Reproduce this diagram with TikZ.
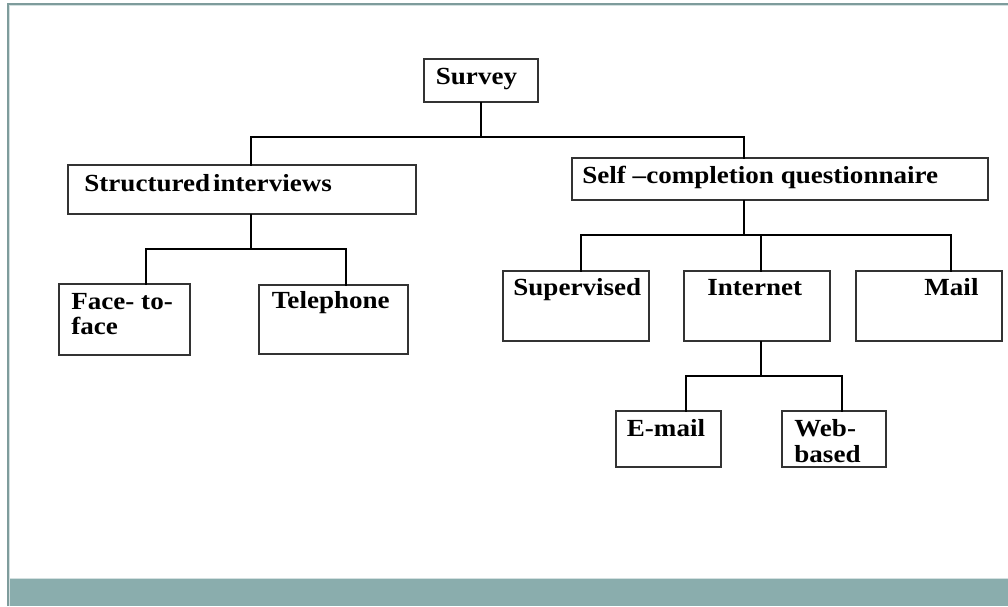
\documentclass[tikz,border=0pt]{standalone}
\usepackage{fontspec}
\setmainfont{Liberation Serif}[FakeStretch=1.1]
\usetikzlibrary{fit}
\definecolor{bandteal}{HTML}{8AADAD}
\definecolor{frameteal}{HTML}{7E9C9C}
\definecolor{framelight}{HTML}{D3E0E0}
\begin{document}
\begin{tikzpicture}[x=0.5pt,y=-0.5pt,
  box/.style={draw=black!80,line width=0.7pt,inner sep=0pt},
  conn/.style={draw=black,line width=1.2pt,line cap=rect},
  lbl/.style={anchor=base west,inner sep=0pt,font=\fontsize{12.3}{13}\selectfont\bfseries}]
\useasboundingbox (0,0) rectangle (1008,606);
% slide frame and footer band
\fill[white] (0,0) rectangle (1008,606);
\fill[bandteal] (7,579) rectangle (1008,606);
\draw[framelight,line width=0.5pt] (7,578.5) -- (1008,578.5);
\draw[frameteal,line width=1pt] (7.5,606) -- (7.5,3.5) -- (1008,3.5);
\draw[framelight,line width=0.5pt] (9.5,606) -- (9.5,5.5) -- (1008,5.5);

% boxes
\node[box,fit={(424,59) (538,102)}] (survey) {};
\node[box,fit={(68,165) (416,214)}] (struct) {};
\node[box,fit={(572,158) (988,200)}] (selfc) {};
\node[box,fit={(59,284) (190,355)}] (ftf) {};
\node[box,fit={(259,285) (408,354)}] (tel) {};
\node[box,fit={(503,271) (649,341)}] (sup) {};
\node[box,fit={(684,271) (830,341)}] (inet) {};
\node[box,fit={(856,271) (1002,341)}] (mail) {};
\node[box,fit={(616,411) (721,467)}] (email) {};
\node[box,fit={(782,411) (886,467)}] (web) {};

% labels
\node[lbl] (survey-t) at (435.5,84) {Survey};
\node[lbl] (struct-t) at (84,191) {Structured\kern1.5pt interviews};
\node[lbl] (selfc-t) at (582,183) {Self \textendash completion questionnaire};
\node[lbl] (ftf-t1) at (71,309) {Face- to-};
\node[lbl] (ftf-t2) at (71,334) {face};
\node[lbl] (tel-t) at (271.5,308) {Telephone};
\node[lbl] (sup-t) at (513,295) {Supervised};
\node[lbl] (inet-t) at (707,295) {Internet};
\node[lbl] (mail-t) at (924,295) {Mail};
\node[lbl] (email-t) at (626.5,436) {E-mail};
\node[lbl] (web-t1) at (794,436) {Web-};
\node[lbl] (web-t2) at (794,462) {based};

% junction points of the connector buses
\coordinate (j0) at (481,137);
\coordinate (j0l) at (250.7,137);
\coordinate (j0r) at (744,137);
\coordinate (j1) at (250.7,249);
\coordinate (j1l) at (146,249);
\coordinate (j1r) at (346,249);
\coordinate (j2) at (744,235);
\coordinate (j2l) at (581,235);
\coordinate (j2m) at (761,235);
\coordinate (j2r) at (951,235);
\coordinate (j3) at (761,376);
\coordinate (j3l) at (686,376);
\coordinate (j3r) at (842,376);

% connectors
\draw[conn] (survey.south) -- (j0);
\draw[conn] (j0l |- struct.north) -- (j0l) -- (j0r) -- (j0r |- selfc.north);
\draw[conn] (j1 |- struct.south) -- (j1);
\draw[conn] (j1l |- ftf.north) -- (j1l) -- (j1r) -- (j1r |- tel.north);
\draw[conn] (j2 |- selfc.south) -- (j2);
\draw[conn] (j2l |- sup.north) -- (j2l) -- (j2r) -- (j2r |- mail.north);
\draw[conn] (j2m) -- (j2m |- inet.north);
\draw[conn] (j3 |- inet.south) -- (j3);
\draw[conn] (j3l |- email.north) -- (j3l) -- (j3r) -- (j3r |- web.north);
\end{tikzpicture}
\end{document}
